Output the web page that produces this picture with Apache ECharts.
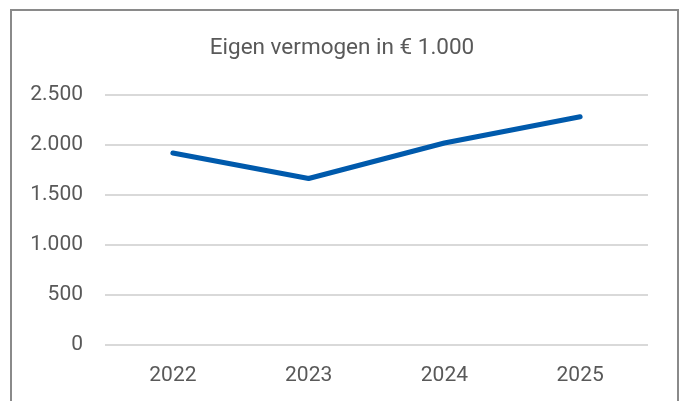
<!DOCTYPE html>
<html><head><meta charset="utf-8">
<script src="https://cdn.jsdelivr.net/npm/echarts@6/dist/echarts.min.js"></script>
<style>
html,body{margin:0;padding:0;background:#fff;overflow:hidden;}
#frame{position:absolute;left:10px;top:9px;width:665px;height:420px;border:2px solid #8a8a8a;}
#c{position:absolute;left:0;top:0;width:684px;height:401px;}
</style></head>
<body>
<div id="frame"></div>
<div id="c"></div>
<script>
const title = 'Eigen vermogen in € 1.000';
const categories = ['2022', '2023', '2024', '2025'];
const values = [1920, 1665, 2020, 2283];
const yTicks = [0, 500, 1000, 1500, 2000, 2500];

const chart = echarts.init(document.getElementById('c'), null, {renderer: 'canvas'});
const font = 'Roboto, "Liberation Sans", sans-serif';
chart.setOption({
  animation: false,
  title: {
    text: title, left: 'center', top: 32,
    textStyle: {fontFamily: font, fontSize: 22.5, fontWeight: 'normal', color: '#595959'}
  },
  grid: {left: 105, right: 36, top: 95, bottom: 56, containLabel: false},
  xAxis: {
    type: 'category', data: categories, boundaryGap: true,
    axisLine: {show: false}, axisTick: {show: false},
    axisLabel: {fontFamily: font, fontSize: 21, color: '#595959', margin: 20}
  },
  yAxis: {
    type: 'value', min: yTicks[0], max: yTicks[yTicks.length - 1], interval: 500,
    axisLine: {show: false}, axisTick: {show: false},
    splitLine: {lineStyle: {color: '#d9d9d9', width: 2}},
    axisLabel: {
      fontFamily: font, fontSize: 21, color: '#595959', margin: 22,
      formatter: v => v.toLocaleString('nl-NL')
    }
  },
  series: [{
    type: 'line', data: values, symbol: 'none',
    lineStyle: {color: '#005aac', width: 5, cap: 'round', join: 'round'}
  }]
});
</script>
</body></html>
